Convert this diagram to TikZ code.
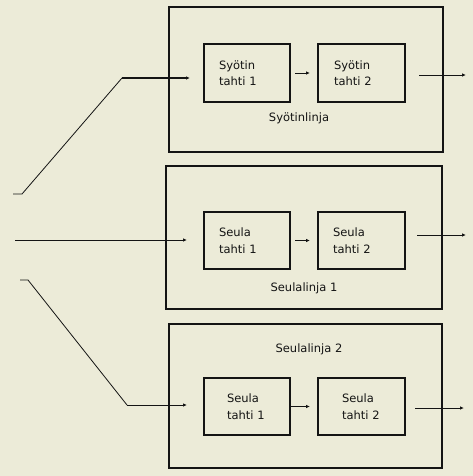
\documentclass[tikz,border=0pt]{standalone}
\usepackage{fontspec}
\setmainfont{DejaVu Sans}
\usetikzlibrary{arrows.meta}
\definecolor{bgc}{RGB}{236,235,216}
\definecolor{ink}{RGB}{20,20,20}
\begin{document}
\begin{tikzpicture}[x=1pt,y=-1pt,
  font=\fontsize{11.5}{16.5}\selectfont,
  outerbox/.style={draw=ink, line width=2pt, inner sep=0pt},
  stagebox/.style={draw=ink, line width=2pt, minimum width=86pt, minimum height=57pt,
    text width=56pt, inner xsep=15pt, align=left, text=ink},
  linelabel/.style={text=ink},
  conn/.style={draw=ink, line width=0.9pt, -{Latex[length=4pt,width=3.5pt]}},
  feed/.style={draw=ink, line width=0.8pt}]
\fill[bgc] (0,0) rectangle (473,476);
\useasboundingbox (0,0) rectangle (473,476);
% outer boxes
\node[outerbox, minimum width=274pt, minimum height=145pt] (L1) at (306,79.5) {};
\node[outerbox, minimum width=276pt, minimum height=143pt] (L2) at (304,237.5) {};
\node[outerbox, minimum width=273pt, minimum height=144pt] (L3) at (305.5,396) {};
% labels
\node[linelabel] (t1) at (299,118) {Syötinlinja};
\node[linelabel] (t2) at (304,288) {Seulalinja 1};
\node[linelabel] (t3) at (309,349) {Seulalinja 2};
% stage boxes
\node[stagebox, minimum height=58pt] (A1) at (247,73) {Syötin\\tahti 1};
\node[stagebox, minimum height=58pt, inner xsep=16pt, text width=55pt] (A2) at (361.5,73) {Syötin\\tahti 2};
\node[stagebox] (B1) at (247,240.5) {Seula\\tahti 1};
\node[stagebox, inner xsep=15pt, text width=57pt] (B2) at (361.5,240.5) {Seula\\tahti 2};
\node[stagebox, inner xsep=23pt, text width=40pt] (C1) at (247,406.5) {Seula\\tahti 1};
\node[stagebox, inner xsep=24pt, text width=39pt] (C2) at (361.5,406.5) {Seula\\tahti 2};
% arrows between stages
\draw[conn, shorten <=4pt, shorten >=7pt] (A1.east) -- (A2.west);
\draw[conn, shorten <=4pt, shorten >=7pt] (B1.east) -- (B2.west);
\draw[conn, shorten >=7pt] (C1.east) -- (C2.west);
% output arrows
\coordinate (o1s) at (419,75);
\coordinate (o1) at (466,75);
\coordinate (o2s) at (417,235);
\coordinate (o2) at (466,235);
\coordinate (o3s) at (415,408);
\coordinate (o3) at (464,408);
\draw[conn] (o1s) -- (o1);
\draw[conn] (o2s) -- (o2);
\draw[conn] (o3s) -- (o3);
% input lines
\coordinate (i1) at (13,194);
\coordinate (k1) at (122,78);
\coordinate (e1) at (190,78);
\draw[feed] (i1) -- ++(9,0) -- (k1);
\draw[conn, line width=1.6pt] (k1) -- (e1);
\coordinate (i2) at (15,240);
\coordinate (e2) at (187,240);
\draw[conn] (i2) -- (e2);
\coordinate (i3) at (20,280);
\coordinate (k3) at (127,405);
\coordinate (e3) at (187,405);
\draw[feed] (i3) -- ++(8,0) -- (k3);
\draw[conn] (k3) -- (e3);
\end{tikzpicture}
\end{document}
